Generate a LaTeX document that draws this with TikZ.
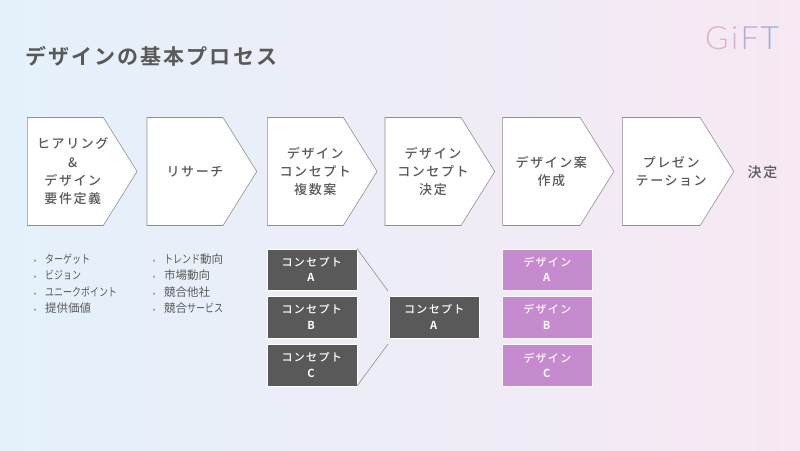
\documentclass[tikz,border=0pt]{standalone}
\usepackage{fontspec}
\usetikzlibrary{shapes.symbols}
\newfontfamily\jpfont[LetterSpace=10,BoldFont={Noto Sans CJK JP Bold}]{Noto Sans CJK JP}
\newfontfamily\jpmed[LetterSpace=12,BoldFont={Noto Sans CJK JP Bold}]{Noto Sans CJK JP Medium}
\newfontfamily\jpnarrow{Noto Sans CJK JP}
\newfontfamily\jpkana[FakeStretch=.78]{Noto Sans CJK JP}
\newfontfamily\logofont{Lato Light}
\definecolor{inkgray}{HTML}{595959}
\definecolor{edgegray}{HTML}{8F8F8F}
\definecolor{purplebox}{HTML}{C68BCF}
\newcommand{\kn}[1]{{\jpkana #1}}
\newcommand{\bulletitem}[1]{\makebox[0pt][r]{\textcolor{edgegray}{\fontsize{8}{8}\selectfont •}\hspace{8.5pt}}#1}
\tikzset{
  chevron/.style={signal,signal to=east,signal pointer angle=116,draw=edgegray,line width=.6pt,fill=white,
    minimum height=108pt,text width=76pt,inner xsep=0pt,inner ysep=0pt,anchor=west,text=inkgray,align=center,
    execute at begin node={\advance\leftskip by #1\advance\rightskip by -#1},
    font=\jpmed\fontsize{13}{18.3}\selectfont},
  chevron/.default=10pt,
  darkbox/.style={draw=white,line width=.4pt,fill=inkgray,minimum width=90pt,minimum height=41.6pt,inner sep=0pt,
    text=white,align=center,font=\jpmed\fontsize{11}{15.5}\selectfont},
  purplecard/.style={darkbox,fill=purplebox},
  bulletlist/.style={anchor=north west,inner sep=0pt,text=inkgray,align=left,font=\jpnarrow\fontsize{11.5}{16.5}\selectfont},
}
\begin{document}
\begin{tikzpicture}[x=1pt,y=-1pt]
\shade[left color={rgb,255:red,228;green,241;blue,251},middle color={rgb,255:red,237;green,238;blue,248},right color={rgb,255:red,247;green,232;blue,243}] (0,0) rectangle (800,450);
\useasboundingbox (0,0) rectangle (800,450);
\node[anchor=west,inner sep=0pt,text=inkgray,font=\jpfont\bfseries\fontsize{21}{25}\selectfont] (title) at (25,56.5) {デザインの基本プロセス};
\node[anchor=east,inner sep=0pt,font=\logofont\fontsize{32}{36}\selectfont] (logo) at (779,38.5)
  {\textcolor[HTML]{E2AFCB}{G}\hspace{2.5pt}\textcolor[HTML]{D9B0D3}{i}\hspace{2.5pt}\textcolor[HTML]{B6ACD8}{F}\hspace{1.5pt}\textcolor[HTML]{98ACD6}{T}};

\node[chevron=7.5pt] (hearing) at (27,171.5) {ヒアリング\\\&\\デザイン\\要件定義};
\node[chevron] (research) at (146.7,171.5) {リサーチ};
\node[chevron] (concepts) at (267,171.5) {デザイン\\コンセプト\\複数案};
\node[chevron] (decide) at (384.7,171.5) {デザイン\\コンセプト\\決定};
\node[chevron,text width=77.5pt] (design) at (502.3,171.5) {デザイン案\\作成};
\node[chevron,text width=77.8pt] (present) at (622,171.5) {プレゼン\\テーション};
\node[text=inkgray,inner sep=0pt,font=\jpmed\fontsize{14}{18}\selectfont] (final) at (762.5,172) {決定};

\node[bulletlist] (needs) at (45,253.5) {\bulletitem{\kn{ターゲット}}\\\bulletitem{\kn{ビジョン}}\\\bulletitem{\kn{ユニークポイント}}\\\bulletitem{提供価値}};
\node[bulletlist] (market) at (164,253.5) {\bulletitem{\kn{トレンド}動向}\\\bulletitem{市場動向}\\\bulletitem{競合他社}\\\bulletitem{競合\kn{サービス}}};

\node[darkbox] (conA) at (311.7,269.5) {コンセプト\\\textbf{A}};
\node[darkbox] (conB) at (311.7,317) {コンセプト\\\textbf{B}};
\node[darkbox] (conC) at (311.7,365.2) {コンセプト\\\textbf{C}};
\node[darkbox] (chosen) at (434.3,317) {コンセプト\\\textbf{A}};
\coordinate (upperend) at (388,291);
\coordinate (lowerend) at (388,344);
\draw[edgegray,line width=.6pt] (conA.north east)--(upperend);
\draw[edgegray,line width=.6pt] (conC.south east)--(lowerend);

\node[purplecard] (desA) at (547.3,269.5) {デザイン\\\textbf{A}};
\node[purplecard] (desB) at (547.3,317) {デザイン\\\textbf{B}};
\node[purplecard] (desC) at (547.3,365.2) {デザイン\\\textbf{C}};
\end{tikzpicture}
\end{document}
